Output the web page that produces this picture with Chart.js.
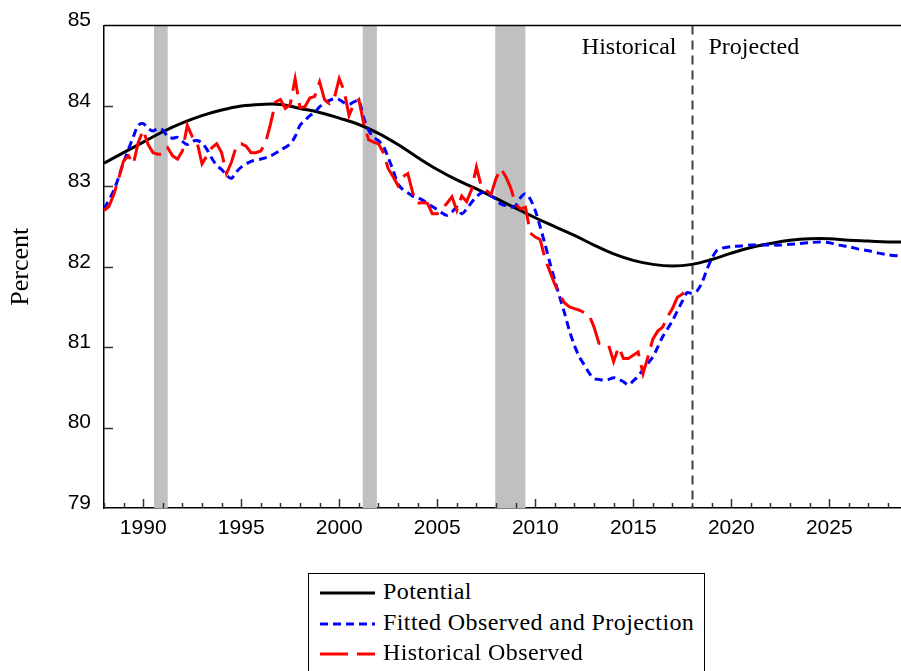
<!DOCTYPE html>
<html>
<head>
<meta charset="utf-8">
<script src="https://cdn.jsdelivr.net/npm/chart.js@4.4.1/dist/chart.umd.min.js"></script>
<style>
  body { margin: 0; background: #fff; }
  #wrap { position: relative; width: 901px; height: 671px; overflow: hidden; }
  #legend {
    position: absolute; left: 308px; top: 573px; width: 395px; height: 120px;
    border: 1px solid #000; background: #fff;
    font-family: "Liberation Serif", "Times New Roman", serif; font-size: 24px; letter-spacing: 0.4px;
  }
  .row { position: absolute; left: 0; width: 100%; height: 31px; line-height: 31px; white-space: nowrap; }
  .row canvas { position: absolute; left: 10px; top: 0; }
  .row span { position: absolute; left: 74px; top: 0; }
</style>
</head>
<body>
<div id="wrap">
  <canvas id="chart" width="901" height="671"></canvas>
  <div id="legend"></div>
</div>
<script>
// recession periods (start, end), in years
const recessions = [[1990.55, 1991.25], [2001.2, 2001.92], [2007.96, 2009.5]];
const dividerYear = 2018;
const yearTicks = [1990, 1995, 2000, 2005, 2010, 2015, 2020, 2025];
const pctTicks = [79, 80, 81, 82, 83, 84, 85];

// Potential
const potYears = [1988, 1989, 1990, 1991, 1992, 1993, 1994, 1995, 1996, 1997, 1998, 1999, 2000,
  2001, 2002, 2003, 2004, 2005, 2006, 2007, 2008, 2009, 2010, 2011, 2012, 2013, 2014, 2015,
  2016, 2017, 2018, 2019, 2020, 2021, 2022, 2023, 2024, 2025, 2026, 2027, 2028, 2028.7];
const potValues = [83.29, 83.42, 83.55, 83.68, 83.79, 83.88, 83.95, 84.00, 84.02, 84.02, 83.97, 83.92, 83.85,
  83.77, 83.66, 83.52, 83.36, 83.21, 83.08, 82.97, 82.85, 82.73, 82.61, 82.50, 82.39, 82.27, 82.16, 82.08,
  82.03, 82.01, 82.03, 82.09, 82.17, 82.24, 82.29, 82.33, 82.35, 82.35, 82.33, 82.32, 82.31, 82.31];

// Fitted Observed and Projection
const fitYears = [1988, 1988.5, 1989, 1989.5, 1989.75, 1990, 1990.25, 1990.5, 1990.75, 1991, 1991.25, 1991.5, 1991.75,
  1992, 1992.25, 1992.5, 1992.75, 1993, 1993.25, 1993.5, 1993.75, 1994, 1994.25, 1994.5, 1994.75,
  1995, 1995.5, 1996, 1996.5, 1997, 1997.5, 1997.75, 1998, 1998.25, 1998.5, 1998.75,
  1999, 1999.25, 1999.5, 1999.75, 2000, 2000.25, 2000.5, 2000.75, 2001, 2001.25, 2001.5, 2001.75,
  2002, 2002.25, 2002.5, 2002.75, 2003, 2003.25, 2003.5, 2003.75, 2004, 2004.25, 2004.5, 2004.75,
  2005, 2005.25, 2005.5, 2005.75, 2006, 2006.25, 2006.5, 2006.75, 2007, 2007.25, 2007.5, 2007.75,
  2008, 2008.25, 2008.5, 2008.75, 2009, 2009.25, 2009.5, 2009.75, 2010, 2010.25, 2010.5, 2010.75,
  2011, 2011.25, 2011.5, 2011.75, 2012, 2012.25, 2012.5, 2012.75, 2013, 2013.25, 2013.5, 2013.75,
  2014, 2014.25, 2014.5, 2014.75, 2015, 2015.25, 2015.5, 2015.75, 2016, 2016.25, 2016.5, 2016.75,
  2017, 2017.25, 2017.5, 2017.75, 2018, 2018.25, 2018.5, 2018.75, 2019, 2019.25, 2019.5,
  2020, 2020.5, 2021, 2021.5, 2022, 2022.5, 2023, 2023.5, 2024, 2024.5, 2025, 2025.5,
  2026, 2026.5, 2027, 2027.5, 2028, 2028.7];
const fitValues = [82.72, 82.95, 83.30, 83.62, 83.76, 83.78, 83.72, 83.69, 83.72, 83.70, 83.62, 83.60, 83.61,
  83.56, 83.52, 83.56, 83.57, 83.54, 83.46, 83.35, 83.26, 83.21, 83.14, 83.10, 83.18,
  83.24, 83.31, 83.34, 83.38, 83.45, 83.53, 83.62, 83.76, 83.82, 83.88, 83.92,
  83.99, 84.04, 84.07, 84.09, 84.08, 84.04, 84.02, 84.05, 84.07, 83.85, 83.70, 83.61,
  83.57, 83.50, 83.36, 83.20, 83.03, 82.96, 82.92, 82.88, 82.86, 82.83, 82.79, 82.75,
  82.71, 82.67, 82.64, 82.68, 82.74, 82.66, 82.72, 82.80, 82.87, 82.92, 82.92, 82.88,
  82.84, 82.78, 82.76, 82.74, 82.76, 82.86, 82.91, 82.84, 82.70, 82.50, 82.28, 82.05,
  81.83, 81.62, 81.42, 81.20, 81.02, 80.88, 80.78, 80.68, 80.61, 80.60, 80.59, 80.60,
  80.62, 80.60, 80.57, 80.53, 80.58, 80.64, 80.72, 80.80, 80.88, 81.00, 81.13, 81.23,
  81.33, 81.45, 81.57, 81.68, 81.67, 81.70, 81.80, 81.96, 82.10, 82.20, 82.23,
  82.25, 82.26, 82.27, 82.27, 82.27, 82.27, 82.28, 82.29, 82.30, 82.31, 82.30, 82.27,
  82.25, 82.22, 82.20, 82.17, 82.15, 82.13];

// Historical Observed, quarterly from 1988Q1
const histStart = 1988;
const histValues = [
  82.70, 82.75, 82.90, 83.10,  83.32, 83.38, 83.28, 83.55,  83.70, 83.52, 83.42, 83.40,
  83.40, 83.48, 83.38, 83.34,  83.44, 83.76, 83.62, 83.55,  83.28, 83.38, 83.48, 83.53,
  83.42, 83.16, 83.30, 83.50,  83.53, 83.50, 83.42, 83.42,  83.44, 83.55, 83.78, 84.05,
  84.08, 83.97, 84.02, 84.34,  83.98, 83.99, 84.10, 84.12,  84.30, 84.08, 84.03, 84.10,
  84.34, 84.19, 83.88, 84.03,  84.08, 83.78, 83.58, 83.55,  83.53, 83.42, 83.22, 83.12,
  83.01, 83.12, 83.16, 82.92,  82.79, 82.80, 82.79, 82.66,  82.66, 82.72, 82.79, 82.87,
  82.70, 82.88, 82.81, 82.96,  83.24, 83.00, 82.95, 82.90,  83.10, 83.22, 83.12, 82.98,
  82.78, 82.72, 82.74, 82.42,  82.37, 82.34, 82.10, 81.94,  81.78, 81.65, 81.55, 81.50,
  81.48, 81.46, 81.43, 81.40,  81.25, 81.05, 81.04, 81.02,  80.82, 81.00, 80.86, 80.86,
  80.90, 80.94, 80.67, 80.88,  81.10, 81.20, 81.25, 81.38,  81.48, 81.62, 81.66, 81.73
];

const toPoints = (xs, ys) => ys.map((y, i) => ({ x: xs[i], y }));
const histPoints = histValues.map((y, i) => ({ x: histStart + i / 4, y }));

const SANS = '"Liberation Sans", Arial, sans-serif';
const SERIF = '"Liberation Serif", "Times New Roman", serif';

// shaded recessions, divider line, period labels
const decorPlugin = {
  id: 'decor',
  beforeDatasetsDraw(chart) {
    const { ctx, chartArea: a, scales: { x } } = chart;
    ctx.save();
    ctx.fillStyle = '#c0c0c0';
    recessions.forEach(([s, e]) => {
      const x0 = x.getPixelForValue(s), x1 = x.getPixelForValue(e);
      ctx.fillRect(x0, a.top, x1 - x0, a.bottom - a.top);
    });
    const dx = Math.round(x.getPixelForValue(dividerYear)) + 0.5;
    ctx.strokeStyle = '#404040';
    ctx.lineWidth = 2;
    ctx.setLineDash([9, 6]);
    ctx.beginPath();
    ctx.moveTo(dx, a.top);
    ctx.lineTo(dx, a.bottom);
    ctx.stroke();
    ctx.setLineDash([]);
    ctx.fillStyle = '#000';
    ctx.font = '24px ' + SERIF;
    ctx.textBaseline = 'alphabetic';
    ctx.textAlign = 'right';
    ctx.fillText('Historical', dx - 16, 54);
    ctx.textAlign = 'left';
    ctx.fillText('Projected', dx + 16, 54);
    ctx.restore();
  },
  afterDraw(chart) {
    const { ctx, chartArea: a, scales: { x, y } } = chart;
    ctx.save();
    ctx.strokeStyle = '#000';
    ctx.lineWidth = 1.5;
    ctx.beginPath();
    ctx.moveTo(a.left, a.top);
    ctx.lineTo(a.right, a.top);
    ctx.stroke();
    // inward tick marks
    ctx.strokeStyle = '#333';
    ctx.lineWidth = 1.5;
    ctx.beginPath();
    for (let yr = Math.ceil(x.min); yr <= x.max; yr++) {
      const px = Math.round(x.getPixelForValue(yr)) + 0.5;
      const len = yr % 5 === 0 ? 9 : 5;
      ctx.moveTo(px, a.bottom);
      ctx.lineTo(px, a.bottom - len);
    }
    pctTicks.forEach(v => {
      if (v === y.min || v === y.max) return;
      const py = Math.round(y.getPixelForValue(v)) + 0.5;
      ctx.moveTo(a.left, py);
      ctx.lineTo(a.left + 9, py);
    });
    ctx.stroke();
    ctx.restore();
  }
};

const chart = new Chart(document.getElementById('chart'), {
  type: 'line',
  data: {
    datasets: [
      {
        label: 'Potential',
        data: toPoints(potYears, potValues),
        borderColor: '#000000',
        borderWidth: 3,
        tension: 0.4,
        order: 2
      },
      {
        label: 'Fitted Observed and Projection',
        data: toPoints(fitYears, fitValues),
        borderColor: '#0000ff',
        borderWidth: 3,
        borderDash: [8, 5],
        tension: 0.3,
        order: 1
      },
      {
        label: 'Historical Observed',
        data: histPoints,
        borderColor: '#ff0000',
        borderWidth: 3,
        borderDash: [28, 9],
        tension: 0,
        order: 0
      }
    ]
  },
  options: {
    responsive: false,
    animation: false,
    events: [],
    layout: { padding: { top: 25, right: 0, left: 0, bottom: 0 } },
    elements: { point: { radius: 0 } },
    plugins: { legend: { display: false }, tooltip: { enabled: false } },
    scales: {
      x: {
        type: 'linear',
        min: 1988,
        max: 2028.66,
        afterBuildTicks: s => { s.ticks = yearTicks.map(v => ({ value: v })); },
        afterFit: s => { s.height = 163; },
        grid: { display: false, drawTicks: false },
        border: { display: true, color: '#000', width: 1.5 },
        ticks: {
          padding: 8,
          color: '#000',
          font: { family: SANS, size: 21 },
          callback: v => String(v)
        }
      },
      y: {
        min: 79,
        max: 85,
        afterBuildTicks: s => { s.ticks = pctTicks.map(v => ({ value: v })); },
        afterFit: s => { s.width = 104; },
        grid: { display: false, drawTicks: false },
        border: { display: true, color: '#000', width: 1.5 },
        ticks: {
          padding: 13,
          labelOffset: -5,
          color: '#000',
          font: { family: SANS, size: 21 }
        },
        title: {
          display: true,
          text: 'Percent',
          color: '#000',
          font: { family: SERIF, size: 26 },
          padding: { top: 6, bottom: 0 }
        }
      }
    }
  },
  plugins: [decorPlugin]
});

// legend in a box under the chart, one row per series
const legendBox = document.getElementById('legend');
const rowTops = [2, 33, 63];
chart.data.datasets.forEach((ds, i) => {
  const row = document.createElement('div');
  row.className = 'row';
  row.style.top = rowTops[i] + 'px';
  const c = document.createElement('canvas');
  c.width = 56; c.height = 31;
  const g = c.getContext('2d');
  g.strokeStyle = ds.borderColor;
  g.lineWidth = ds.borderWidth;
  g.setLineDash(ds.borderDash || []);
  g.beginPath();
  g.moveTo(1, 17);
  g.lineTo(56, 17);
  g.stroke();
  const t = document.createElement('span');
  t.textContent = ds.label;
  row.appendChild(c);
  row.appendChild(t);
  legendBox.appendChild(row);
});
</script>
</body>
</html>
